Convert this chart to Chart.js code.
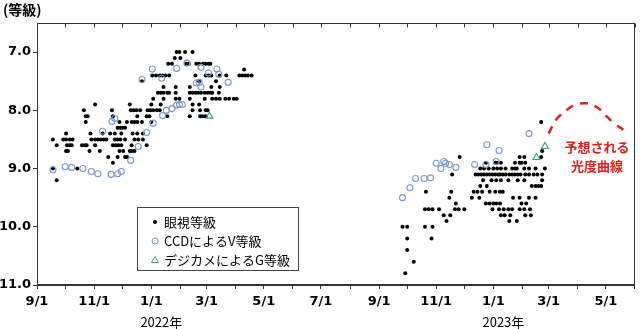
<!DOCTYPE html>
<html>
<head>
<meta charset="utf-8">
<title>光度曲線</title>
<script src="https://cdn.jsdelivr.net/npm/chart.js@4/dist/chart.umd.min.js"></script>
<style>
  html, body { margin: 0; padding: 0; background: #fff; }
  #wrap { width: 640px; height: 329px; }
</style>
</head>
<body>
<div id="wrap"><canvas id="lightCurve" width="640" height="329"></canvas></div>
<script>
// x values are days since 2021-09-01, y values are magnitudes

// Month ticks (first of each month) and their labels
const monthDays = [0, 30, 61, 91, 122, 153, 181, 212, 242, 273, 303, 334,
                   365, 395, 426, 456, 487, 518, 546, 577, 607, 638];
const monthLabels = ['9/1', '', '11/1', '', '1/1', '', '3/1', '', '5/1', '', '7/1', '',
                     '9/1', '', '11/1', '', '1/1', '', '3/1', '', '5/1', ''];
const yearLabels = [[122, '2022年'], [487, '2023年']];
const magTicks = [7, 8, 9, 10, 11];

const seriesNames = ['眼視等級', 'CCDによるV等級', 'デジカメによるG等級'];

// 眼視等級 (visual estimates)
const visualObs = [
    [17,8.5],[21,8.6],[28,8.5],[31,8.5],[35,8.5],[38,8.5],[31,8.4],[32,8.6],[35,8.6],[37,8.6],
    [31,8.7],[33,8.7],[48,8.6],[51,8.6],[53,8.6],[50,8.0],[52,8.1],[54,8.1],[52,8.2],[57,8.4],
    [56,8.7],[58,8.5],[62,8.5],[65,8.5],[68,8.5],[71,8.5],[74,8.5],[62,7.9],[62,8.6],[67,8.7],
    [70,8.4],[76,8.8],[78,8.4],[80,8.0],[81,8.1],[81,8.6],[84,8.6],[87,8.6],[90,8.6],[81,8.9],
    [83,8.4],[83,8.5],[86,8.5],[89,8.5],[94,8.5],[86,8.3],[89,8.3],[91,8.3],[94,8.3],[86,8.8],
    [88,8.2],[88,8.7],[90,8.4],[92,8.7],[94,8.8],[96,8.8],[96,8.2],[99,7.9],[99,8.7],[100,8.0],
    [103,8.0],[106,8.0],[110,8.0],[101,8.2],[104,8.2],[107,8.2],[112,8.2],[101,8.6],[101,8.7],
    [104,8.7],[102,8.4],[104,8.5],[108,8.5],[113,8.5],[107,8.4],[113,8.4],[107,8.1],[112,7.5],
    [117,8.1],[120,8.1],[117,8.6],[118,8.0],[121,8.0],[124,8.0],[128,8.0],[131,8.0],[122,7.9],
    [122,8.2],[124,7.8],[123,7.4],[127,7.4],[131,7.4],[134,7.4],[137,7.4],[141,7.4],[129,7.7],
    [132,7.7],[135,7.7],[139,7.7],[141,7.7],[132,7.9],[135,7.6],[135,7.8],[139,8.1],[140,7.2],
    [144,7.2],[147,7.1],[148,7.6],[148,7.7],[148,7.8],[152,7.8],[149,7.0],[152,7.0],[158,7.0],
    [166,7.0],[153,7.1],[159,7.2],[162,7.2],[163,7.6],[163,7.7],[166,7.7],[169,7.7],[172,7.7],
    [175,7.7],[179,7.7],[182,7.7],[185,7.7],[187,7.7],[163,7.8],[163,8.1],[166,7.9],[166,8.0],
    [169,7.4],[170,7.2],[173,7.2],[177,7.2],[180,7.2],[183,7.2],[185,7.2],[173,7.5],[173,7.9],
    [174,8.0],[174,8.1],[177,8.1],[180,8.1],[180,8.0],[182,8.0],[179,7.8],[180,7.4],[183,7.4],
    [186,7.4],[186,7.6],[187,7.8],[191,7.8],[195,7.8],[191,7.5],[194,7.7],[195,7.6],[195,7.4],
    [201,7.8],[205,7.8],[210,7.8],[213,7.8],[202,7.4],[216,7.4],[219,7.4],[222,7.4],[225,7.4],
    [229,7.4],[221,7.3],[17,9.0],[21,9.2],[43,9.0],
    [390,10.0],[395,10.0],[393,10.8],[395,10.2],[395,10.4],[402,10.6],[414,10.0],[422,10.0],
    [421,10.2],[414,9.7],[418,9.7],[422,9.7],[429,9.7],[415,9.4],[434,9.8],[437,9.9],[441,9.8],
    [440,9.5],[442,9.4],[443,9.1],[446,9.7],[447,9.6],[450,9.7],[451,8.8],[456,9.7],[464,9.5],
    [466,9.4],[470,9.4],[472,9.5],[473,9.3],[476,9.2],[480,9.3],
    [468,9.1],[471,9.1],[474,9.1],[477,9.1],[480,9.1],[483,9.1],[486,9.1],[489,9.1],[492,9.1],
    [494,9.1],[497,9.1],[500,9.1],[504,9.1],[507,9.1],[510,9.1],[513,9.1],[516,9.1],[521,9.1],
    [525,9.1],[530,9.1],[534,9.1],[539,9.1],
    [473,9.0],[477,9.0],[482,9.0],[487,9.0],[491,9.0],[495,9.0],[500,9.0],[507,9.0],[510,9.0],
    [512,9.0],[520,9.0],[525,9.0],[532,9.0],[542,9.0],
    [479,8.9],[489,8.9],[491,8.9],[495,8.9],[510,8.9],[515,8.9],[517,8.9],[521,8.9],
    [515,8.8],[520,8.8],[538,8.8],
    [485,9.2],[490,9.2],[495,9.2],[503,9.2],[513,9.2],[520,9.2],[539,9.2],
    [528,9.3],[532,9.3],[535,9.3],[538,9.3],
    [475,9.4],[483,9.4],[489,9.4],[494,9.4],[497,9.4],
    [508,9.5],[515,9.5],[525,9.5],[532,9.5],
    [479,9.6],[483,9.6],[487,9.6],[490,9.6],[494,9.6],[517,9.6],[522,9.6],
    [486,9.7],[493,9.7],[498,9.7],[503,9.7],[507,9.7],[515,9.7],[520,9.7],[526,9.7],
    [495,9.8],[499,9.8],[505,9.8],[521,9.8],[527,9.8],
    [504,9.9],[512,9.9],[539,8.7],[538,8.2]
];

// CCDによるV等級
const ccdObs = [
    [17,9.02],[30,8.97],[37,8.98],[49,9.0],[58,9.05],[65,9.09],[79,9.1],[86,9.09],[90,9.05],
    [100,8.86],[70,8.36],[80,8.19],[83,8.14],[108,8.62],[117,8.38],[124,8.22],[134,8.09],
    [138,8.0],[144,7.97],[149,7.91],[152,7.9],[155,7.9],[112,7.47],[123,7.29],[133,7.45],
    [149,7.28],[160,7.19],[175,7.26],[170,7.53],[173,7.52],[175,7.6],[183,7.36],[192,7.29],
    [194,7.38],[204,7.52],
    [390,9.5],[398,9.33],[404,9.17],[413,9.17],[420,9.16],[426,8.91],[431,9.0],[434,8.88],
    [436,8.91],[440,8.93],[447,8.98],[467,8.93],[479,8.93],[480,8.59],[490,8.88],[493,8.69],
    [525,8.4]
];

// デジカメによるG等級
const dslrObs = [[184,8.1],[533,8.81],[542,8.62]];

// 予想される光度曲線
const predictedCurve = [
    [546,8.4],[554,8.16],[565,8.0],[575,7.9],[586,7.88],[593,7.91],
    [602,8.0],[607,8.09],[615,8.21],[628,8.36]
];

const toXY = arr => arr.map(p => ({ x: p[0], y: p[1] }));

const blueColor = '#7b96cf';
const greenColor = '#2fa865';
const redColor = '#e3211c';
const jpFont = '"Noto Sans CJK JP", "Noto Sans", sans-serif';

// Frame, axis title, year labels, legend box and annotation
const decorations = {
    id: 'decorations',
    afterDraw(chart) {
        const ctx = chart.ctx;
        const area = chart.chartArea;
        const xs = chart.scales.x;
        ctx.save();

        // plot frame
        ctx.strokeStyle = '#333';
        ctx.lineWidth = 1;
        const l = Math.round(area.left) + 0.5, t = Math.round(area.top) + 0.5;
        const r = Math.round(area.right) - 0.5, b = Math.round(area.bottom) - 0.5;
        ctx.strokeRect(l, t, r - l, b - t);

        // inward ticks on the top border
        ctx.beginPath();
        monthDays.forEach(d => {
            const px = Math.round(xs.getPixelForValue(d)) + 0.5;
            ctx.moveTo(px, t);
            ctx.lineTo(px, t + 4);
        });
        ctx.stroke();

        // y-axis title
        ctx.fillStyle = '#000';
        ctx.font = 'bold 14px ' + jpFont;
        ctx.textBaseline = 'middle';
        ctx.textAlign = 'left';
        ctx.fillText('(等級)', 3, 10);

        // year labels
        ctx.font = '13px ' + jpFont;
        ctx.textAlign = 'center';
        yearLabels.forEach(([d, txt]) => {
            ctx.fillText(txt, xs.getPixelForValue(d) + 10, 322);
        });

        // legend box
        const bx = 137, by = 207, bw = 161, bh = 63;
        ctx.fillStyle = '#fff';
        ctx.fillRect(bx, by, bw, bh);
        ctx.strokeStyle = '#444';
        ctx.strokeRect(bx + 0.5, by + 0.5, bw, bh);

        const rows = [222, 241, 260];
        const mx = 155;
        ctx.fillStyle = '#000';
        ctx.beginPath();
        ctx.arc(mx, rows[0], 2, 0, Math.PI * 2);
        ctx.fill();

        ctx.strokeStyle = blueColor;
        ctx.lineWidth = 1;
        ctx.beginPath();
        ctx.arc(mx, rows[1], 3, 0, Math.PI * 2);
        ctx.stroke();

        ctx.strokeStyle = greenColor;
        ctx.beginPath();
        ctx.moveTo(mx, rows[2] - 3.5);
        ctx.lineTo(mx + 3.5, rows[2] + 2.5);
        ctx.lineTo(mx - 3.5, rows[2] + 2.5);
        ctx.closePath();
        ctx.stroke();

        ctx.fillStyle = '#000';
        ctx.font = '13px ' + jpFont;
        ctx.textAlign = 'left';
        seriesNames.forEach((name, i) => ctx.fillText(name, 164, rows[i]));

        // annotation for the predicted curve
        ctx.fillStyle = redColor;
        ctx.font = 'bold 13px ' + jpFont;
        ctx.textAlign = 'center';
        ctx.fillText('予想される', 597, 147);
        ctx.fillText('光度曲線', 597, 166);

        ctx.restore();
    }
};

const ctx = document.getElementById('lightCurve').getContext('2d');
new Chart(ctx, {
    type: 'scatter',
    data: {
        datasets: [
            {
                label: seriesNames[0],
                data: toXY(visualObs),
                pointStyle: 'circle',
                pointRadius: 2,
                backgroundColor: '#000',
                borderWidth: 0,
                order: 3
            },
            {
                label: seriesNames[1],
                data: toXY(ccdObs),
                pointStyle: 'circle',
                pointRadius: 3,
                backgroundColor: 'rgba(0,0,0,0)',
                borderColor: blueColor,
                borderWidth: 1.1,
                order: 2
            },
            {
                label: seriesNames[2],
                data: toXY(dslrObs),
                pointStyle: 'triangle',
                pointRadius: 4,
                backgroundColor: 'rgba(0,0,0,0)',
                borderColor: greenColor,
                borderWidth: 1.1,
                order: 1
            },
            {
                label: '予想される光度曲線',
                type: 'line',
                data: toXY(predictedCurve),
                borderColor: redColor,
                borderWidth: 2.5,
                borderDash: [8, 7],
                borderCapStyle: 'butt',
                pointRadius: 0,
                tension: 0.4,
                fill: false,
                order: 0
            }
        ]
    },
    options: {
        responsive: false,
        animation: false,
        layout: { padding: { top: 23, right: 3, left: 0, bottom: 0 } },
        plugins: {
            legend: { display: false },
            tooltip: { enabled: false }
        },
        scales: {
            x: {
                type: 'linear',
                min: 0,
                max: 638,
                grid: { drawOnChartArea: false, drawTicks: true, tickLength: 4, color: '#333' },
                border: { display: true, color: '#333' },
                afterBuildTicks: axis => { axis.ticks = monthDays.map(v => ({ value: v })); },
                afterFit: scale => { scale.height = 44; },
                ticks: {
                    autoSkip: false,
                    maxRotation: 0,
                    padding: 5,
                    color: '#000',
                    font: { family: '"DejaVu Sans"', size: 13, weight: 'bold' },
                    callback: (value, index) => monthLabels[index]
                }
            },
            y: {
                reverse: true,
                min: 6.5,
                max: 11.0,
                grid: { drawOnChartArea: false, drawTicks: true, tickLength: 4, color: '#333' },
                border: { display: true, color: '#333' },
                afterBuildTicks: axis => { axis.ticks = magTicks.map(v => ({ value: v })); },
                afterFit: scale => { scale.width = 37; },
                ticks: {
                    padding: 2,
                    color: '#000',
                    font: { family: '"DejaVu Sans"', size: 13, weight: 'bold' },
                    callback: value => value.toFixed(1)
                }
            }
        }
    },
    plugins: [decorations]
});
</script>
</body>
</html>
